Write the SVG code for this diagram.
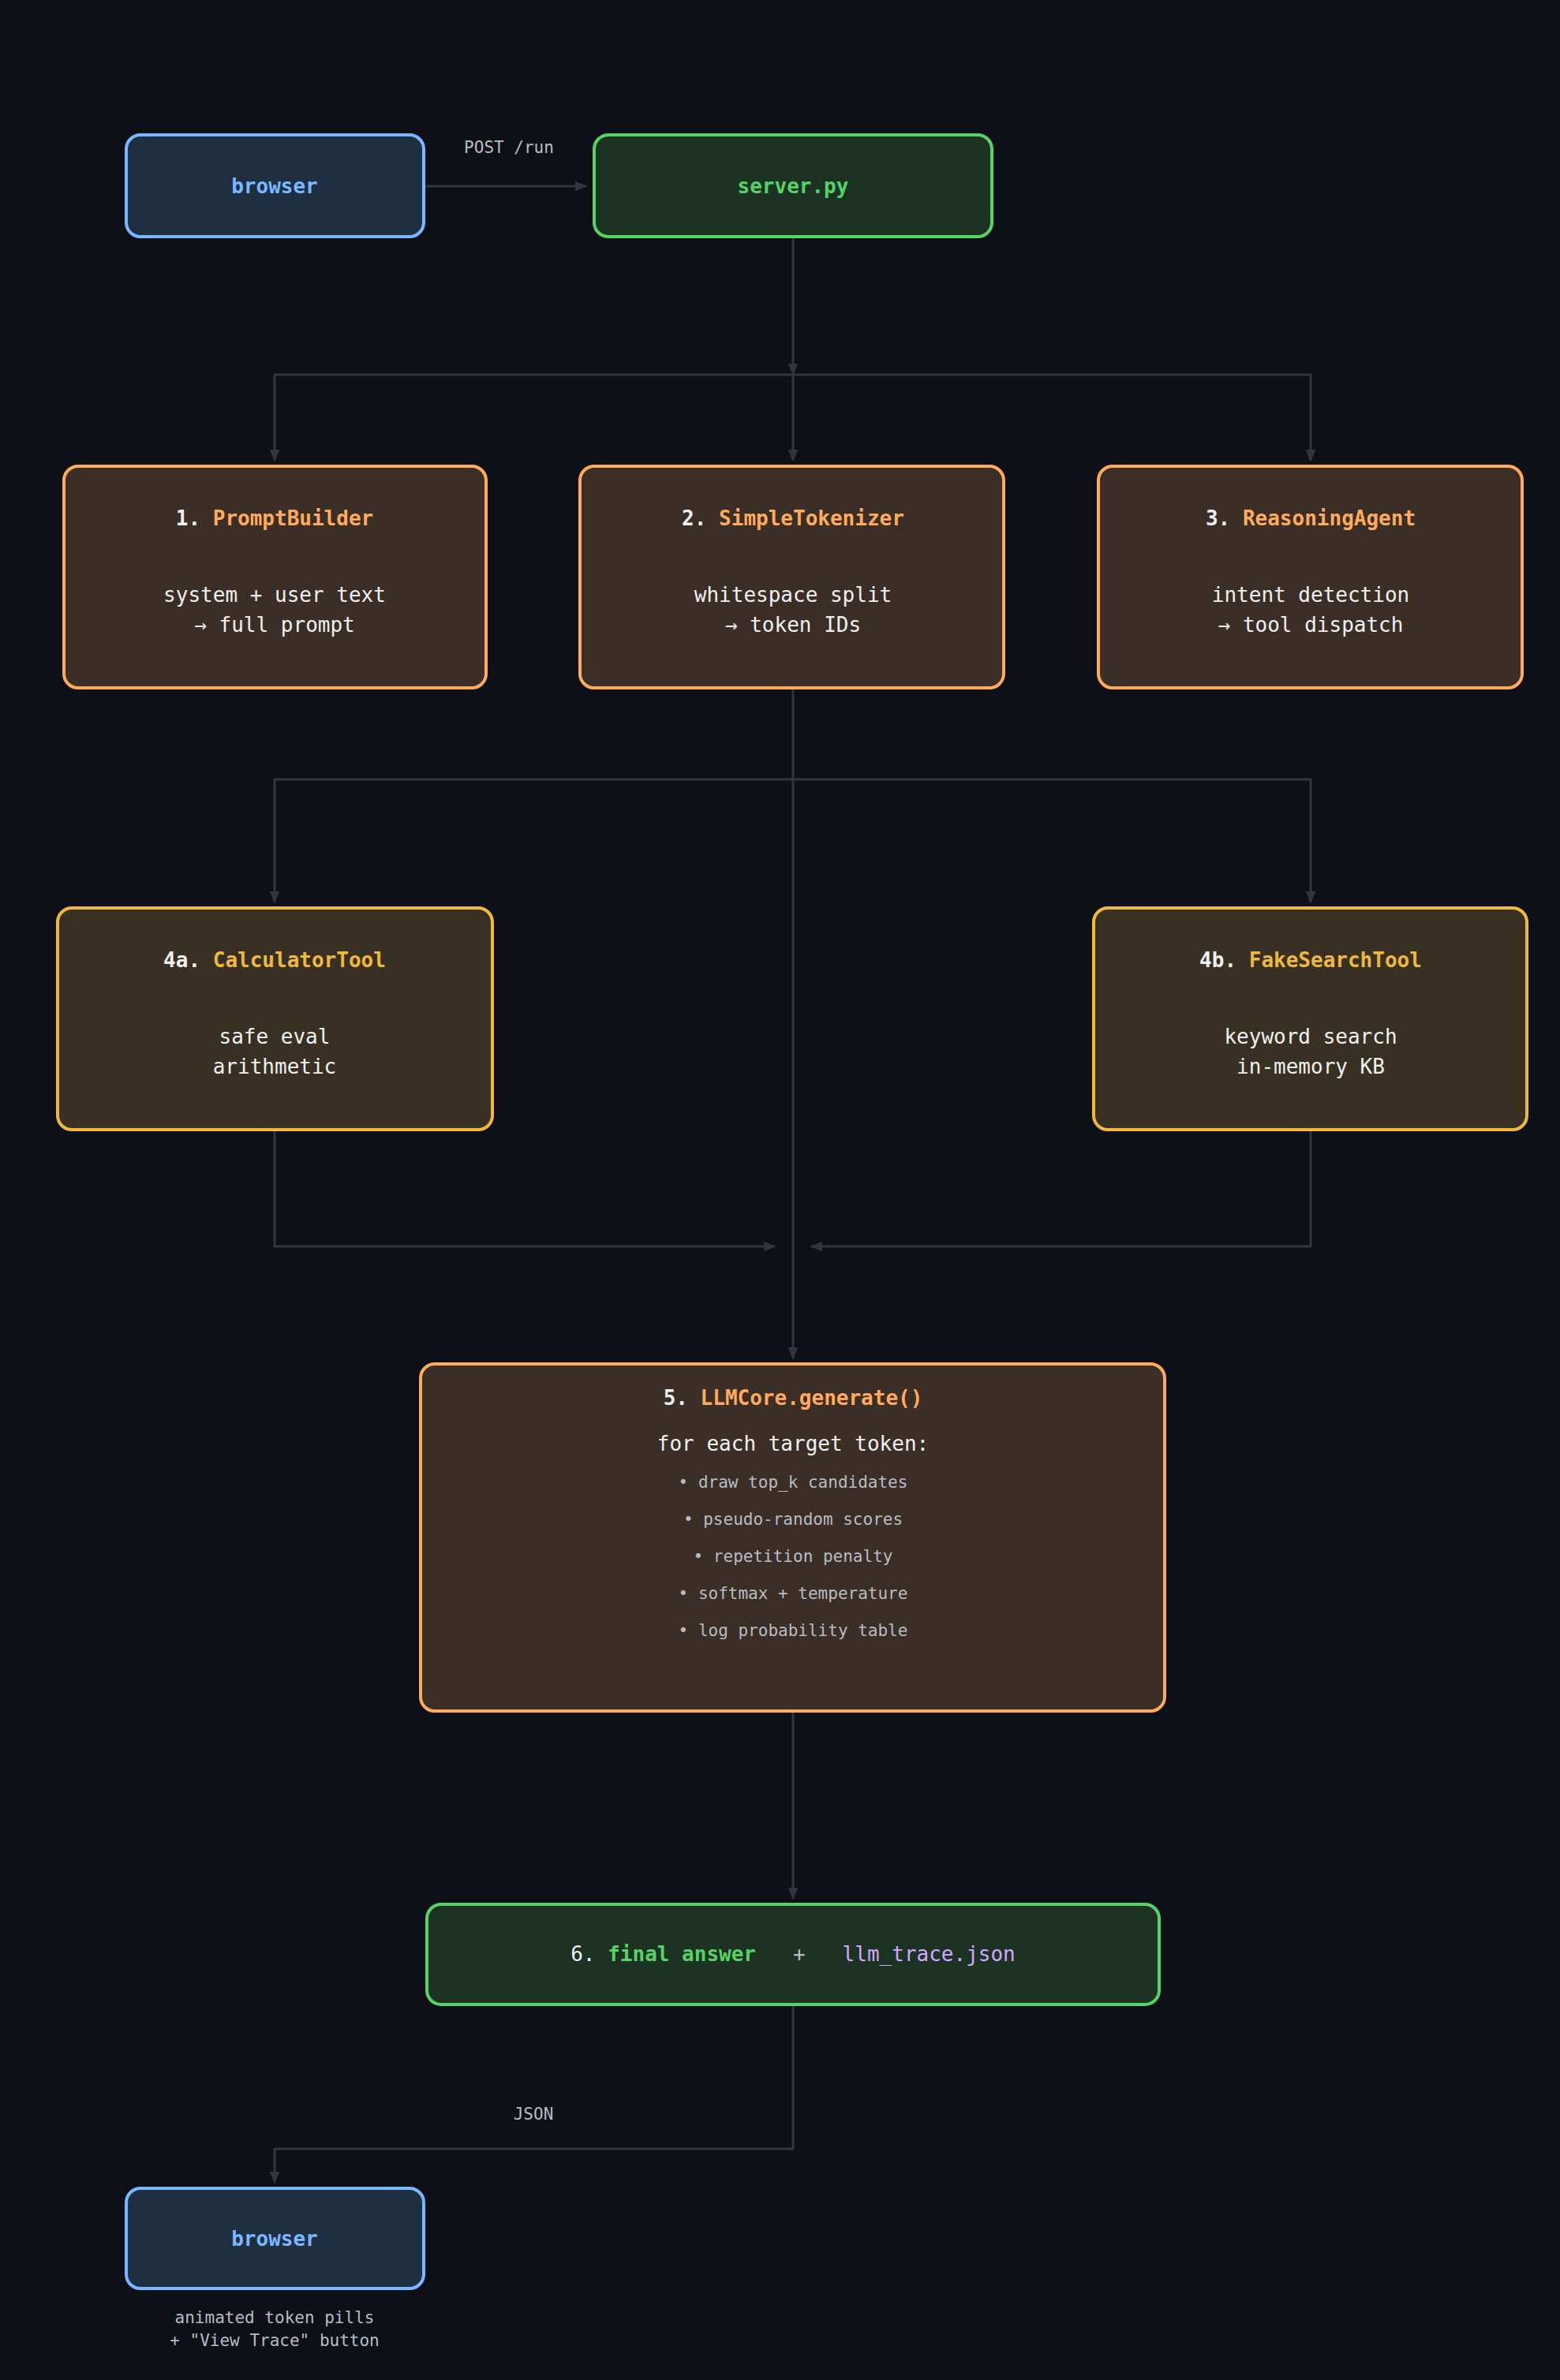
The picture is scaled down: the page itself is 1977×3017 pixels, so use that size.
<svg xmlns="http://www.w3.org/2000/svg" width="1977" height="3017" viewBox="0 0 1977 3017">
<style>
text{font-family:"DejaVu Sans Mono","Liberation Mono",monospace;text-anchor:middle}
.b{fill:#1f2f42;stroke:#79b8ff;stroke-width:4}
.g{fill:#1c3324;stroke:#56d364;stroke-width:4}
.o{fill:#3a2e26;stroke:#ffab5b;stroke-width:4}
.y{fill:#383022;stroke:#f0b93b;stroke-width:4}
.t{font-size:26px;font-weight:bold}
.w{fill:#f0f0f0}
.body{font-size:26px;fill:#f0f0f0}
.sm{font-size:21px;fill:#b8bcc2}
.c{stroke:#30363d;stroke-width:3;fill:none}
</style>
<defs><marker id="a" viewBox="0 0 10 10" refX="9" refY="5" markerWidth="6" markerHeight="6" orient="auto" markerUnits="userSpaceOnUse" ><path d="M0,0L10,5L0,10z" fill="#30363d"/></marker>
<marker id="h" viewBox="0 0 10 10" refX="9" refY="5" markerWidth="16" markerHeight="16" orient="auto" markerUnits="userSpaceOnUse"><path d="M0,1L10,5L0,9z" fill="#30363d"/></marker></defs>
<rect width="1977" height="3017" fill="#0d1017"/>
<g id="connectors" class="c" marker-end="url(#h)">
<path d="M537,236H743"/>
<path d="M1005,300V475"/>
<path d="M1005,475H348V584"/>
<path d="M1005,475V584"/>
<path d="M1005,475H1661V584"/>
<path d="M1005,872V988" marker-end="none"/>
<path d="M1005,988H348V1144"/>
<path d="M1005,988H1661V1144"/>
<path d="M1005,988V1722"/>
<path d="M348,1432V1580H982"/>
<path d="M1661,1432V1580H1028"/>
<path d="M1005,2169V2407"/>
<path d="M1005,2541V2724H348V2767"/>
</g>
<text x="645" y="194" class="sm">POST /run</text>
<text x="676" y="2687" class="sm">JSON</text>
<g id="browser1"><rect x="160" y="171" width="377" height="129" rx="18" class="b"/><text x="348" y="245" class="t" fill="#79b8ff">browser</text></g>
<g id="server"><rect x="753" y="171" width="504" height="129" rx="18" class="g"/><text x="1005" y="245" class="t" fill="#56d364">server.py</text></g>
<g id="n1"><rect x="81" y="591" width="535" height="281" rx="18" class="o"/><text x="348" y="666" class="t"><tspan class="w">1. </tspan><tspan fill="#ffab5b">PromptBuilder</tspan></text><text x="348" y="763" class="body">system + user text</text><text x="348" y="801" class="body">→ full prompt</text></g>
<g id="n2"><rect x="735" y="591" width="537" height="281" rx="18" class="o"/><text x="1005" y="666" class="t"><tspan class="w">2. </tspan><tspan fill="#ffab5b">SimpleTokenizer</tspan></text><text x="1005" y="763" class="body">whitespace split</text><text x="1005" y="801" class="body">→ token IDs</text></g>
<g id="n3"><rect x="1392" y="591" width="537" height="281" rx="18" class="o"/><text x="1661" y="666" class="t"><tspan class="w">3. </tspan><tspan fill="#ffab5b">ReasoningAgent</tspan></text><text x="1661" y="763" class="body">intent detection</text><text x="1661" y="801" class="body">→ tool dispatch</text></g>
<g id="n4a"><rect x="73" y="1151" width="551" height="281" rx="18" class="y"/><text x="348" y="1226" class="t"><tspan class="w">4a. </tspan><tspan fill="#f0b93b">CalculatorTool</tspan></text><text x="348" y="1323" class="body">safe eval</text><text x="348" y="1361" class="body">arithmetic</text></g>
<g id="n4b"><rect x="1386" y="1151" width="549" height="281" rx="18" class="y"/><text x="1661" y="1226" class="t"><tspan class="w">4b. </tspan><tspan fill="#f0b93b">FakeSearchTool</tspan></text><text x="1661" y="1323" class="body">keyword search</text><text x="1661" y="1361" class="body">in-memory KB</text></g>
<g id="n5"><rect x="533" y="1729" width="943" height="440" rx="18" class="o"/><text x="1005" y="1781" class="t"><tspan class="w">5. </tspan><tspan fill="#ffab5b">LLMCore.generate()</tspan></text><text x="1005" y="1839" class="body">for each target token:</text>
<text x="1005" y="1886" class="sm">• draw top_k candidates</text><text x="1005" y="1933" class="sm">• pseudo-random scores</text><text x="1005" y="1980" class="sm">• repetition penalty</text><text x="1005" y="2027" class="sm">• softmax + temperature</text><text x="1005" y="2074" class="sm">• log probability table</text></g>
<g id="n6"><rect x="541" y="2414" width="928" height="127" rx="18" class="g"/><text x="1005" y="2486" class="t" xml:space="preserve"><tspan class="w" font-weight="normal">6. </tspan><tspan fill="#56d364">final answer</tspan><tspan fill="#b8bcc2" font-weight="normal">   +   </tspan><tspan fill="#d2a8ff" font-weight="normal">llm_trace.json</tspan></text></g>
<g id="browser2"><rect x="160" y="2774" width="377" height="127" rx="18" class="b"/><text x="348" y="2847" class="t" fill="#79b8ff">browser</text><text x="348" y="2945" class="sm">animated token pills</text><text x="348" y="2974" class="sm">+ "View Trace" button</text></g>
</svg>
